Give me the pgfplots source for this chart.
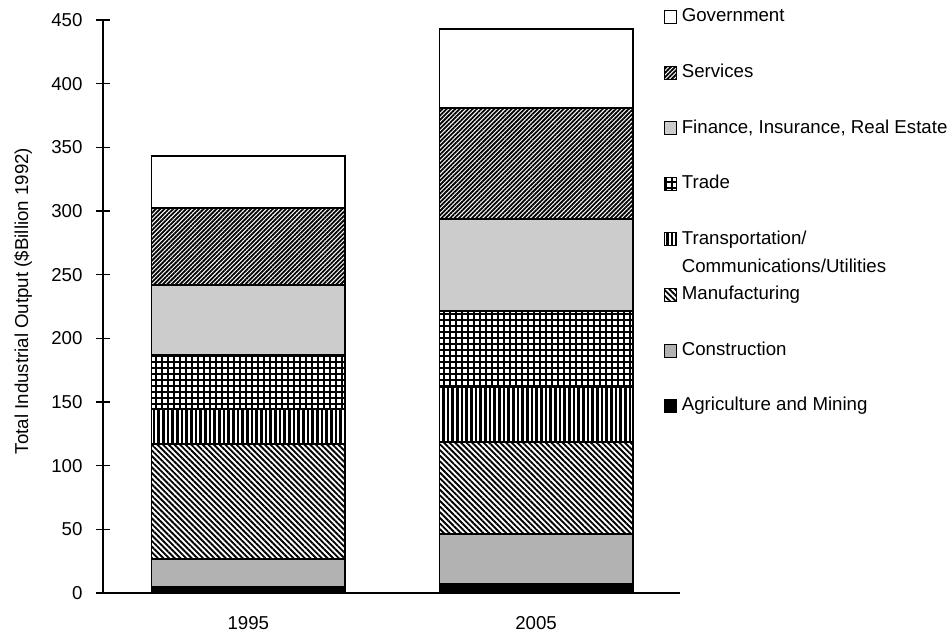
\documentclass[border=0pt]{standalone}
\usepackage{fontspec}
\setmainfont{Liberation Sans}
\usepackage{pgfplots}
\pgfplotsset{compat=1.18}
\usetikzlibrary{patterns.meta}

\begin{document}
\begin{tikzpicture}[font=\fontsize{14pt}{16.8pt}\selectfont]
% 1px of the reference = 0.75pt
\path[use as bounding box] (-77.25pt,-33.75pt) rectangle (634.5pt,444.75pt);
\begin{axis}[
  at={(0,0)}, anchor=south west, scale only axis,
  width=432.75pt, height=429.75pt,
  xmin=-0.505, xmax=1.5, ymin=0, ymax=450,
  ybar stacked, bar width=0.672,
  axis x line=bottom, axis y line=left,
  axis line style={line width=0.9pt, -},
  xtick={0,1}, xticklabels={1995,2005},
  ytick={0,50,...,450},
  tick align=center, major tick length=10.5pt,
  every tick/.style={black, line width=0.9pt},
  xtick style={draw=none},
  yticklabel style={inner sep=0pt, anchor=east, xshift=-10pt},
  xticklabel style={inner sep=0pt, anchor=north, yshift=-12.5pt},
  /pgf/number format/assume math mode=true,
  ylabel={Total Industrial Output (\$Billion 1992)},
  ylabel style={at={(axis description cs:-0.1386,0.5096)}, anchor=center},
  every axis plot/.append style={draw=black, line width=1.1pt},
  legend image code/.code={\draw[#1, line width=0.6pt] (0pt,-4.875pt) rectangle (9pt,4.875pt);},
  reverse legend,
  legend style={at={(axis description cs:0.9723,1.0169)}, anchor=north west,
    draw=none, fill=none, inner sep=0pt, outer sep=0pt,
    row sep=31.3pt, column sep=3.75pt,
    nodes={inner sep=0pt, outer sep=0pt, text height=0.716em, text depth=0pt},
    cells={anchor=west}},
]
\addplot[fill=black] coordinates {(0,4.7) (1,7.0)};
\addlegendentry{Agriculture and Mining}
\addplot[fill=black!30] coordinates {(0,22.0) (1,39.3)};
\addlegendentry{Construction}
\addplot[pattern={Lines[angle=-45,distance=3pt,line width=1.4pt]}] coordinates {(0,90.3) (1,72.3)};
\addlegendentry{Manufacturing}
\addplot[pattern={Lines[angle=90,distance=3.5pt,line width=2pt]}] coordinates {(0,27.5) (1,43.2)};
\addlegendentry{\begin{tabular}[t]{@{}l@{}}Transportation/\\[4.2pt]Communications/Utilities\end{tabular}}
\addplot[pattern={Hatch[angle=0,distance=4.5pt,line width=1.4pt]}] coordinates {(0,42.5) (1,59.7)};
\addlegendentry{Trade}
\addplot[fill=black!20] coordinates {(0,55.0) (1,72.2)};
\addlegendentry{Finance, Insurance, Real Estate}
\addplot[pattern={Lines[angle=45,distance=2.3pt,line width=1.35pt]}] coordinates {(0,60.5) (1,87.3)};
\addlegendentry{Services}
\addplot[fill=white] coordinates {(0,40.6) (1,62.0)};
\addlegendentry{Government}
\end{axis}
\end{tikzpicture}
\end{document}
